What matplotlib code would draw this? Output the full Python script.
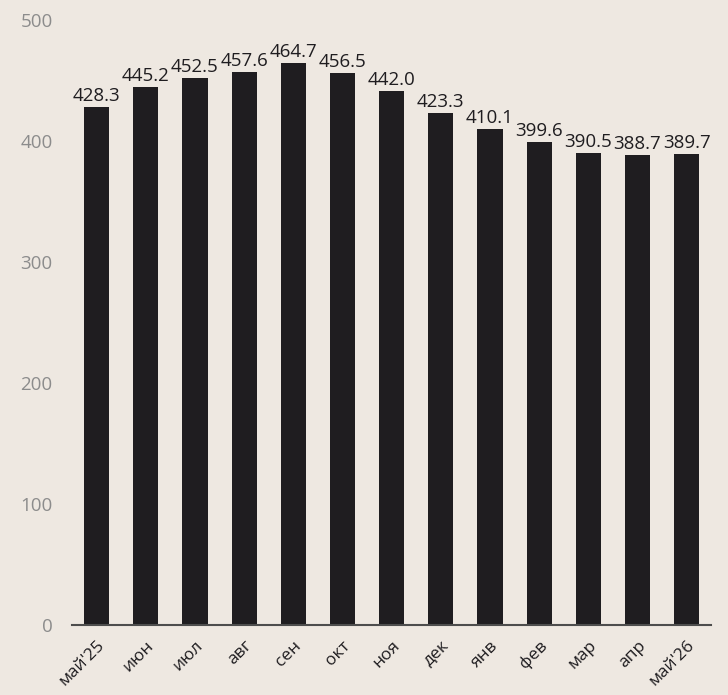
import matplotlib.pyplot as plt

months = ["май'25", "июн", "июл", "авг", "сен", "окт", "ноя", "дек",
          "янв", "фев", "мар", "апр", "май'26"]
values = [428.3, 445.2, 452.5, 457.6, 464.7, 456.5, 442.0, 423.3,
          410.1, 399.6, 390.5, 388.7, 389.7]

bg = "#eee8e1"
bar_color = "#1f1d20"

plt.rcParams['font.family'] = ['Open Sans', 'DejaVu Sans']

fig = plt.figure(figsize=(7.28, 6.95), dpi=100, facecolor=bg)
ax = fig.add_axes([0.099, 0.1007, 0.878, 0.870])
ax.set_facecolor(bg)

x = range(len(months))
ax.bar(x, values, width=0.51, color=bar_color)
for xi, v in zip(x, values):
    ax.text(xi, v + 1.5, f"{v:.1f}", ha="center", va="bottom",
            fontsize=13.5, color=bar_color)

ax.set_xlim(-0.5, len(months) - 0.5)
ax.set_ylim(0, 500)
ax.set_yticks([0, 100, 200, 300, 400, 500])
ax.tick_params(axis="y", length=0, labelsize=13.5, labelcolor="#8c8c8c", pad=14)
ax.set_xticks(list(x))
ax.set_xticklabels(months, rotation=45, ha="right", rotation_mode="anchor",
                   fontsize=12.5, color=bar_color)
ax.tick_params(axis="x", length=0, pad=9)

for s in ["top", "right", "left"]:
    ax.spines[s].set_visible(False)
ax.spines["bottom"].set_color("#4d4d4d")
ax.spines["bottom"].set_linewidth(1.5)

fig.savefig("out.png", dpi=100, facecolor=bg)
